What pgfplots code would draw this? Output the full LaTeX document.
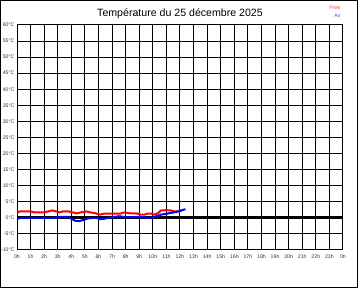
\documentclass[border=0pt]{standalone}
\usepackage{fontspec}
\setmainfont{Liberation Sans}
\usepackage{pgfplots}
\pgfplotsset{compat=1.18}
\begin{document}
\begin{tikzpicture}[x=1pt,y=1pt]
\useasboundingbox (0,0) rectangle (360,288);
\draw[line width=1pt] (0.5,0.5) rectangle (357.5,287.5);
\begin{axis}[
  at={(17pt,38pt)}, anchor=south west,
  scale only axis, width=326pt, height=225pt,
  xmin=0, xmax=24, ymin=-10, ymax=60,
  xtick={0,1,...,24},
  xticklabels={0h,1h,2h,3h,4h,5h,6h,7h,8h,9h,10h,11h,12h,13h,14h,15h,16h,17h,18h,19h,20h,21h,22h,23h,0h},
  ytick={-10,-5,...,60},
  yticklabels={-10°C,-5°C,0°C,5°C,10°C,15°C,20°C,25°C,30°C,35°C,40°C,45°C,50°C,55°C,60°C},
  major tick length=0pt,
  tick label style={font=\fontsize{5.2}{6}\selectfont, text=black!80},
  xticklabel style={yshift=-1pt},
  yticklabel style={xshift=1pt},
  grid=major,
  grid style={black, line width=1pt},
  axis line style={black, line width=1pt},
]
\addplot[black, line width=3pt] coordinates {(0,0) (24,0)};
\addplot[red, line width=2pt] coordinates {
(0,1.5)(0.2,2.0)(0.5,2.0)(1.0,2.0)(1.3,1.7)(2.0,1.7)(2.3,2.0)(2.6,2.3)(2.9,2.0)(3.1,1.7)(3.4,2.0)(3.8,2.0)(4.1,1.7)(4.4,1.4)(4.7,1.7)(5.1,2.0)(5.4,1.7)(5.8,1.4)(6.1,1.0)(6.4,1.3)(7.0,1.3)(7.6,1.3)(7.9,1.7)(8.3,1.4)(8.8,1.4)(9.1,1.0)(9.4,1.0)(9.6,1.3)(9.9,1.3)(10.1,1.0)(10.4,1.5)(10.6,2.3)(11.0,2.4)(11.3,2.3)(11.6,2.0)(11.9,2.0)(12.1,2.2)
};
\addplot[blue, line width=2pt] coordinates {
(0,-0.5)(0.2,0)(1,0)(2,0)(2.8,0)(3.0,0.3)(3.8,0.3)(4.0,-0.3)(4.3,-0.9)(4.6,-1.0)(4.9,-0.6)(5.2,-0.2)(5.5,0)(5.9,0)(6.1,-0.4)(6.4,-0.3)(6.7,0)(7.1,0.2)(7.5,0.5)(7.9,0.3)(8.3,0.2)(9.0,0.2)(9.4,0.2)(9.6,0)(10.0,0.1)(10.3,0.6)(10.6,1.0)(10.9,1.2)(11.3,1.5)(11.7,1.8)(12.0,2.2)(12.4,2.7)
};
\end{axis}
\node[font=\fontsize{10.6}{12}\selectfont] at (180,274) {Température du 25 décembre 2025};
\node[anchor=east, font=\fontsize{5}{6}\selectfont, text=red!75] at (344,280) {Piste};
\node[anchor=east, font=\fontsize{5}{6}\selectfont, text=blue!75] at (344,272) {Air};
\end{tikzpicture}
\end{document}
